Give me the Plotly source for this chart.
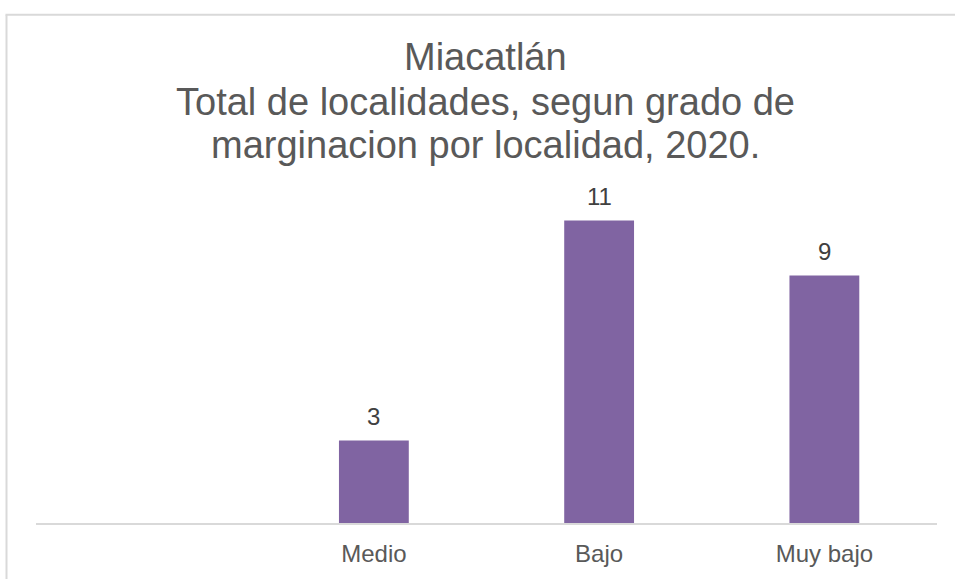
import plotly.graph_objects as go

categories = [" ", "Medio", "Bajo", "Muy bajo"]
values = [None, 3, 11, 9]
title_lines = ["Miacatlán",
               "Total de localidades, segun grado de",
               "marginacion por localidad, 2020."]

W, H = 955, 579
L, R, T, B = 36, 18, 193, 50
pw, ph = W - L - R, H - T - B
FONT = "Liberation Sans, Arial, sans-serif"

def px_x(x):
    return (x - L) / pw

def px_y(y):
    return (H - B - y) / ph

fig = go.Figure()
fig.add_trace(go.Bar(
    x=categories, y=values,
    marker=dict(color="#8064A2", line=dict(width=0)),
    hoverinfo="skip",
))

annotations = []
for c, v in zip(categories, values):
    if v is None:
        continue
    annotations.append(dict(
        x=c, y=v, xref="x", yref="y", text=str(v), showarrow=False,
        xanchor="center", yanchor="bottom", yshift=9,
        font=dict(family=FONT, size=24, color="#404040"),
    ))

centers = [55, 100, 144]
for line, cy in zip(title_lines, centers):
    annotations.append(dict(
        text=line, x=px_x(485), y=px_y(cy), xref="paper", yref="paper",
        xanchor="center", yanchor="middle", showarrow=False,
        font=dict(family=FONT, size=38, color="#595959"),
    ))

shapes = [
    dict(type="line", xref="paper", yref="paper",
         x0=px_x(6.5), x1=px_x(6.5), y0=px_y(11.5), y1=px_y(600),
         line=dict(color="#d9d9d9", width=2)),
    dict(type="line", xref="paper", yref="paper",
         x0=px_x(5.5), x1=px_x(960), y0=px_y(11.5), y1=px_y(11.5),
         line=dict(color="#d9d9d9", width=2)),
]

fig.update_layout(
    width=W, height=H,
    margin=dict(l=L, r=R, t=T, b=B),
    paper_bgcolor="white", plot_bgcolor="white",
    bargap=0.69,
    showlegend=False,
    annotations=annotations,
    shapes=shapes,
    font=dict(family=FONT),
)
fig.update_xaxes(
    type="category", showline=True, linecolor="#d9d9d9", linewidth=1.5,
    showgrid=False, ticks="", ticklen=0, ticklabelstandoff=8,
    tickfont=dict(family=FONT, size=24, color="#595959"),
)
fig.update_yaxes(range=[0, 12], visible=False, showgrid=False)

fig.write_html("out.html",
               config={"displayModeBar": False},
               post_script="document.body.style.margin='0';document.body.style.overflow='hidden';")
